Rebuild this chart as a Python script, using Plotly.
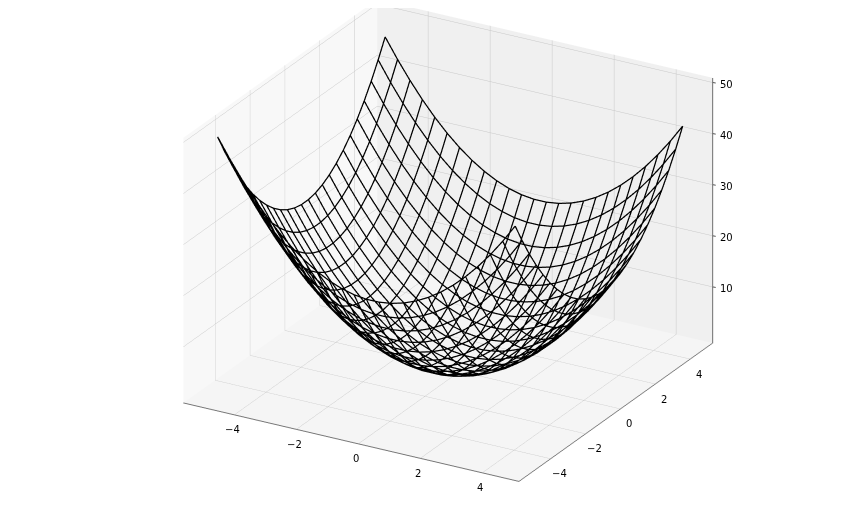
import plotly.graph_objects as go

x_values = [-5,-4.6,-4.2,-3.8,-3.4,-3,-2.6,-2.2,-1.8,-1.4,-1,-.6,-.2,.2,.6,1,1.4,1.8,2.2,2.6,3,3.4,3.8,4.2,4.6]
y_values = [-5,-4.6,-4.2,-3.8,-3.4,-3,-2.6,-2.2,-1.8,-1.4,-1,-.6,-.2,.2,.6,1,1.4,1.8,2.2,2.6,3,3.4,3.8,4.2,4.6]
r0 = [50,46.16,42.64,39.44,36.56,34,31.76,29.84,28.24,26.96,26,25.36,25.04,25.04,25.36,26,26.96,28.24,29.84,31.76,34,36.56,39.44,42.64,46.16]
r1 = [46.16,42.32,38.8,35.6,32.72,30.16,27.92,26,24.4,23.12,22.16,21.52,21.2,21.2,21.52,22.16,23.12,24.4,26,27.92,30.16,32.72,35.6,38.8,42.32]
r2 = [42.64,38.8,35.28,32.08,29.2,26.64,24.4,22.48,20.88,19.6,18.64,18,17.68,17.68,18,18.64,19.6,20.88,22.48,24.4,26.64,29.2,32.08,35.28,38.8]
r3 = [39.44,35.6,32.08,28.88,26,23.44,21.2,19.28,17.68,16.4,15.44,14.8,14.48,14.48,14.8,15.44,16.4,17.68,19.28,21.2,23.44,26,28.88,32.08,35.6]
r4 = [36.56,32.72,29.2,26,23.12,20.56,18.32,16.4,14.8,13.52,12.56,11.92,11.6,11.6,11.92,12.56,13.52,14.8,16.4,18.32,20.56,23.12,26,29.2,32.72]
r5 = [34,30.16,26.64,23.44,20.56,18,15.76,13.84,12.24,10.96,10,9.36,9.04,9.04,9.36,10,10.96,12.24,13.84,15.76,18,20.56,23.44,26.64,30.16]
r6 = [31.76,27.92,24.4,21.2,18.32,15.76,13.52,11.6,10,8.72,7.76,7.12,6.8,6.8,7.12,7.76,8.72,10,11.6,13.52,15.76,18.32,21.2,24.4,27.92]
r7 = [29.84,26,22.48,19.28,16.4,13.84,11.6,9.68,8.08,6.8,5.84,5.2,4.88,4.88,5.2,5.84,6.8,8.08,9.68,11.6,13.84,16.4,19.28,22.48,26]
r8 = [28.24,24.4,20.88,17.68,14.8,12.24,10,8.08,6.48,5.2,4.24,3.6,3.28,3.28,3.6,4.24,5.2,6.48,8.08,10,12.24,14.8,17.68,20.88,24.4]
r9 = [26.96,23.12,19.6,16.4,13.52,10.96,8.72,6.8,5.2,3.92,2.96,2.32,2,2,2.32,2.96,3.92,5.2,6.8,8.72,10.96,13.52,16.4,19.6,23.12]
r10 = [26,22.16,18.64,15.44,12.56,10,7.76,5.84,4.24,2.96,2,1.36,1.04,1.04,1.36,2,2.96,4.24,5.84,7.76,10,12.56,15.44,18.64,22.16]
r11 = [25.36,21.52,18,14.8,11.92,9.36,7.12,5.2,3.6,2.32,1.36,.72,.4,.4,.72,1.36,2.32,3.6,5.2,7.12,9.36,11.92,14.8,18,21.52]
r12 = [25.04,21.2,17.68,14.48,11.6,9.04,6.8,4.88,3.28,2,1.04,.4,.08,.08,.4,1.04,2,3.28,4.88,6.8,9.04,11.6,14.48,17.68,21.2]
z_values = [r0,r1,r2,r3,r4,r5,r6,r7,r8,r9,r10,r11,r12,r12,r11,r10,r9,r8,r7,r6,r5,r4,r3,r2,r1]
x_ticks = [-4,-2,0,2,4]
y_ticks = [-4,-2,0,2,4]
z_ticks = [10,20,30,40,50]
XR = [-5.643,5.182]
YR = [-5.818,5.288]
ZR = [-0.981,50.912]

lx=[];ly=[];lz=[]
for i,a in enumerate(x_values):
    for j,b in enumerate(y_values):
        lx.append(a);ly.append(b);lz.append(z_values[i][j])
    lx.append(None);ly.append(None);lz.append(None)
for j,b in enumerate(y_values):
    for i,a in enumerate(x_values):
        lx.append(a);ly.append(b);lz.append(z_values[i][j])
    lx.append(None);ly.append(None);lz.append(None)

fig=go.Figure()
fig.add_trace(go.Scatter3d(x=lx,y=ly,z=lz,mode='lines',line=dict(color='black',width=2.5),hoverinfo='skip'))
fig.add_trace(go.Scatter3d(x=[XR[1],XR[1]],y=[YR[1],YR[1]],z=ZR,mode='lines',line=dict(color='#444444',width=1.5),hoverinfo='skip'))

def ax(r,tv,bg,t):
    return dict(range=r,tickvals=tv,showticklabels=False,showbackground=True,backgroundcolor=bg,gridcolor='#c8c8c8',gridwidth=1,zeroline=False,showline=t,linecolor='#777777',linewidth=2,ticks='',title='',showspikes=False)

F=dict(size=10,color='black',family='DejaVu Sans')
m=lambda v:str(v).replace('-','\u2212')
def tick(x,y,z,dx,dy):
    return dict(x=x,y=y,z=z,text=' ',showarrow=True,arrowhead=0,arrowwidth=1,arrowcolor='#555555',ax=dx,ay=dy,font=F)
ann=[]
for v in x_ticks:
    ann.append(dict(x=v,y=YR[0],z=ZR[0],text=m(v),showarrow=False,xshift=-2,yshift=-15,font=F))
    ann.append(tick(v,YR[0],ZR[0],-3,3))
for v in y_ticks:
    ann.append(dict(x=XR[1],y=v,z=ZR[0],text=m(v),showarrow=False,xshift=9,yshift=-15,font=F))
    ann.append(tick(XR[1],v,ZR[0],5,1))
for v in z_ticks:
    ann.append(dict(x=XR[1],y=YR[1],z=v,text=m(v),showarrow=False,xshift=14,yshift=-2,font=F))
    ann.append(tick(XR[1],YR[1],v,6,1))

fig.update_layout(width=864,height=512,margin=dict(l=0,r=0,t=0,b=0),showlegend=False,paper_bgcolor='white',
 scene=dict(domain=dict(x=[0,1],y=[0,1]),aspectmode='manual',aspectratio=dict(x=1.510,y=1.524,z=1.135),
 camera=dict(eye=dict(x=1.146,y=-2.066,z=.9565),center=dict(x=.022,y=-.102,z=-.0565),up=dict(x=0,y=0,z=1),projection=dict(type='orthographic')),
 xaxis=ax(XR,x_ticks,'#f8f8f8',True),yaxis=ax(YR,y_ticks,'#f0f0f0',True),zaxis=ax(ZR,z_ticks,'#f5f5f5',False),annotations=ann))
fig.write_html('out.html')
